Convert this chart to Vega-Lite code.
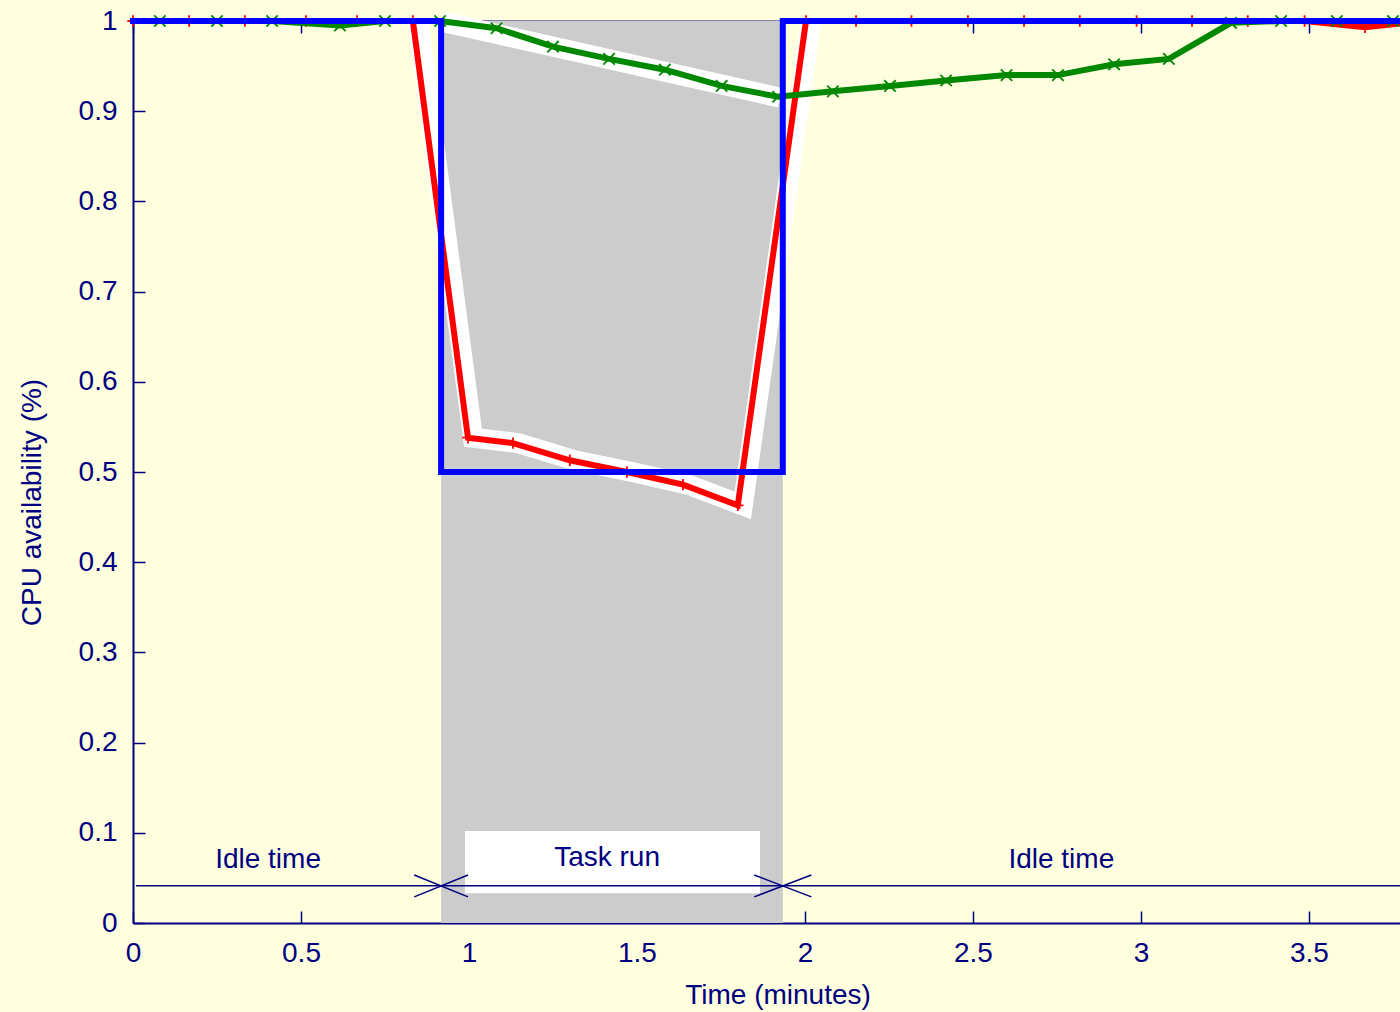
{
  "$schema": "https://vega.github.io/schema/vega-lite/v6.json",
  "width": 1267,
  "height": 902,
  "autosize": {"type": "none"},
  "padding": {"left": 133, "top": 21, "right": 0, "bottom": 89},
  "background": "#ffffe0",
  "config": {
    "view": {"stroke": null, "fill": "#ffffe0"},
    "font": "Liberation Sans",
    "axis": {
      "domainColor": "#000080", "domainWidth": 2,
      "tickColor": "#000080", "tickWidth": 1.5, "tickSize": -12,
      "labelColor": "#000080", "titleColor": "#000080",
      "labelFont": "Liberation Sans", "titleFont": "Liberation Sans",
      "labelFontSize": 28, "titleFontSize": 28, "titleFontWeight": "normal",
      "grid": false, "labelFlush": false, "labelOverlap": false
    }
  },
  "datasets": {
    "gray": [{"x": 0.917, "x2": 1.934, "y": 0, "y2": 1}],
    "bands": [
      {"band": "A", "seq": 1, "x": 0.923, "y": 0.999},
      {"band": "A", "seq": 2, "x": 1.926, "y": 0.915},
      {"band": "B", "seq": 1, "x": 0.848, "y": 1.0},
      {"band": "B", "seq": 2, "x": 1.012, "y": 0.538},
      {"band": "B", "seq": 3, "x": 1.146, "y": 0.532},
      {"band": "B", "seq": 4, "x": 1.315, "y": 0.513},
      {"band": "B", "seq": 5, "x": 1.485, "y": 0.5},
      {"band": "B", "seq": 6, "x": 1.652, "y": 0.486},
      {"band": "B", "seq": 7, "x": 1.815, "y": 0.463},
      {"band": "B", "seq": 8, "x": 2.018, "y": 1.0}
    ],
    "box": [{"x": 0.988, "x2": 1.866, "y": 0.033, "y2": 0.102}],
    "arrows": [
      {"x": 0.009, "x2": 0.917, "y": 0.0413, "y2": 0.0413},
      {"x": 0.917, "x2": 1.934, "y": 0.0413, "y2": 0.0413},
      {"x": 1.934, "x2": 3.8, "y": 0.0413, "y2": 0.0413},
      {"x": 0.837, "x2": 0.997, "y": 0.0532, "y2": 0.029},
      {"x": 0.837, "x2": 0.997, "y": 0.029, "y2": 0.0532},
      {"x": 1.849, "x2": 2.019, "y": 0.0532, "y2": 0.029},
      {"x": 1.849, "x2": 2.019, "y": 0.029, "y2": 0.0532}
    ],
    "labels": [
      {"x": 0.402, "y": 0.061, "text": "Idle time"},
      {"x": 1.411, "y": 0.063, "text": "Task run"},
      {"x": 2.763, "y": 0.061, "text": "Idle time"}
    ],
    "red": [
      {"x": 0, "y": 1}, {"x": 0.167, "y": 1}, {"x": 0.333, "y": 1}, {"x": 0.515, "y": 1},
      {"x": 0.667, "y": 1}, {"x": 0.833, "y": 1},
      {"x": 0.997, "y": 0.538}, {"x": 1.131, "y": 0.532}, {"x": 1.3, "y": 0.513},
      {"x": 1.47, "y": 0.5}, {"x": 1.637, "y": 0.486}, {"x": 1.8, "y": 0.463},
      {"x": 2.003, "y": 1}, {"x": 2.152, "y": 1}, {"x": 2.317, "y": 1}, {"x": 2.485, "y": 1},
      {"x": 2.652, "y": 1}, {"x": 2.818, "y": 1}, {"x": 2.987, "y": 1}, {"x": 3.152, "y": 1},
      {"x": 3.318, "y": 1}, {"x": 3.487, "y": 1}, {"x": 3.667, "y": 0.993}, {"x": 3.833, "y": 1}
    ],
    "green": [
      {"x": 0.08, "y": 1}, {"x": 0.25, "y": 1}, {"x": 0.414, "y": 1}, {"x": 0.616, "y": 0.995},
      {"x": 0.75, "y": 1}, {"x": 0.914, "y": 1}, {"x": 1.082, "y": 0.992}, {"x": 1.25, "y": 0.9715},
      {"x": 1.417, "y": 0.958}, {"x": 1.583, "y": 0.946}, {"x": 1.752, "y": 0.928}, {"x": 1.92, "y": 0.916},
      {"x": 2.083, "y": 0.922}, {"x": 2.253, "y": 0.928}, {"x": 2.42, "y": 0.934}, {"x": 2.6, "y": 0.94},
      {"x": 2.753, "y": 0.94}, {"x": 2.92, "y": 0.952}, {"x": 3.083, "y": 0.958}, {"x": 3.268, "y": 0.998},
      {"x": 3.417, "y": 1}, {"x": 3.583, "y": 1}, {"x": 3.75, "y": 1}
    ],
    "blue": [
      {"seq": 1, "x": 0, "y": 1}, {"seq": 2, "x": 0.917, "y": 1}, {"seq": 3, "x": 0.917, "y": 0.5},
      {"seq": 4, "x": 1.934, "y": 0.5}, {"seq": 5, "x": 1.934, "y": 1}, {"seq": 6, "x": 3.8, "y": 1}
    ]
  },
  "layer": [
    {
      "data": {"name": "gray"},
      "mark": {"type": "rect", "color": "#cccccc"},
      "encoding": {
        "x": {"field": "x", "type": "quantitative", "scale": {"domain": [0, 3.771], "nice": false, "zero": false},
              "axis": {"orient": "top", "labels": false, "title": null, "values": [0, 0.5, 1, 1.5, 2, 2.5, 3, 3.5]}},
        "x2": {"field": "x2"},
        "y": {"field": "y", "type": "quantitative", "scale": {"domain": [0, 1], "nice": false},
              "title": "CPU availability (%)",
              "axis": {"orient": "left", "values": [0, 0.1, 0.2, 0.3, 0.4, 0.5, 0.6, 0.7, 0.8, 0.9, 1], "format": "~g",
                       "labelPadding": 28, "title": "CPU availability (%)", "titleX": -93, "titleY": 481,
                       "titleAngle": 270, "titleBaseline": "alphabetic", "titleAlign": "center"}},
        "y2": {"field": "y2"}
      }
    },
    {
      "data": {"name": "bands"},
      "mark": {"type": "line", "color": "#ffffff", "strokeWidth": 20, "strokeCap": "butt", "strokeJoin": "miter"},
      "encoding": {
        "x": {"field": "x", "type": "quantitative", "axis": null},
        "y": {"field": "y", "type": "quantitative", "title": "CPU availability (%)"},
        "detail": {"field": "band"},
        "order": {"field": "seq"}
      }
    },
    {
      "mark": {"type": "rule", "color": "#000000", "strokeWidth": 1.5, "strokeDash": [3, 6]},
      "encoding": {"y": {"datum": 0.5, "type": "quantitative"}}
    },
    {
      "data": {"name": "box"},
      "mark": {"type": "rect", "color": "#ffffff"},
      "encoding": {
        "x": {"field": "x", "type": "quantitative", "axis": null},
        "x2": {"field": "x2"},
        "y": {"field": "y", "type": "quantitative", "title": "CPU availability (%)"},
        "y2": {"field": "y2"}
      }
    },
    {
      "data": {"name": "arrows"},
      "mark": {"type": "rule", "color": "#000080", "strokeWidth": 1.5},
      "encoding": {
        "x": {"field": "x", "type": "quantitative", "axis": null},
        "x2": {"field": "x2"},
        "y": {"field": "y", "type": "quantitative", "title": "CPU availability (%)"},
        "y2": {"field": "y2"}
      }
    },
    {
      "data": {"name": "labels"},
      "mark": {"type": "text", "color": "#000080", "fontSize": 28, "font": "Liberation Sans", "align": "center", "baseline": "alphabetic"},
      "encoding": {
        "x": {"field": "x", "type": "quantitative", "axis": null},
        "y": {"field": "y", "type": "quantitative", "title": "CPU availability (%)"},
        "text": {"field": "text"}
      }
    },
    {
      "data": {"name": "red"},
      "mark": {"type": "line", "color": "#ff0000", "strokeWidth": 6, "strokeJoin": "miter"},
      "encoding": {
        "x": {"field": "x", "type": "quantitative", "title": "Time (minutes)",
              "axis": {"orient": "bottom", "values": [0, 0.5, 1, 1.5, 2, 2.5, 3, 3.5], "format": "~g",
                       "labelPadding": 28, "title": "Time (minutes)", "titleX": 644.5, "titleY": 80,
                       "titleBaseline": "alphabetic", "titleAlign": "center"}},
        "y": {"field": "y", "type": "quantitative", "title": "CPU availability (%)"}
      }
    },
    {
      "data": {"name": "red"},
      "mark": {"type": "point", "shape": "M-1,0L1,0M0,-1L0,1", "stroke": "#ff0000", "strokeWidth": 1.8, "filled": false, "size": 130, "opacity": 1},
      "encoding": {
        "x": {"field": "x", "type": "quantitative", "axis": null},
        "y": {"field": "y", "type": "quantitative", "title": "CPU availability (%)"}
      }
    },
    {
      "data": {"name": "green"},
      "mark": {"type": "line", "color": "#008800", "strokeWidth": 6, "strokeJoin": "miter"},
      "encoding": {
        "x": {"field": "x", "type": "quantitative", "axis": null},
        "y": {"field": "y", "type": "quantitative", "title": "CPU availability (%)"}
      }
    },
    {
      "data": {"name": "green"},
      "mark": {"type": "point", "shape": "M-1,-1L1,1M-1,1L1,-1", "stroke": "#008800", "strokeWidth": 1.8, "filled": false, "size": 130, "opacity": 1},
      "encoding": {
        "x": {"field": "x", "type": "quantitative", "axis": null},
        "y": {"field": "y", "type": "quantitative", "title": "CPU availability (%)"}
      }
    },
    {
      "data": {"name": "blue"},
      "mark": {"type": "line", "color": "#0000ff", "strokeWidth": 6, "strokeJoin": "miter", "strokeCap": "square"},
      "encoding": {
        "x": {"field": "x", "type": "quantitative", "axis": null},
        "y": {"field": "y", "type": "quantitative", "title": "CPU availability (%)"},
        "order": {"field": "seq"}
      }
    }
  ],
  "resolve": {"axis": {"x": "independent"}}
}
